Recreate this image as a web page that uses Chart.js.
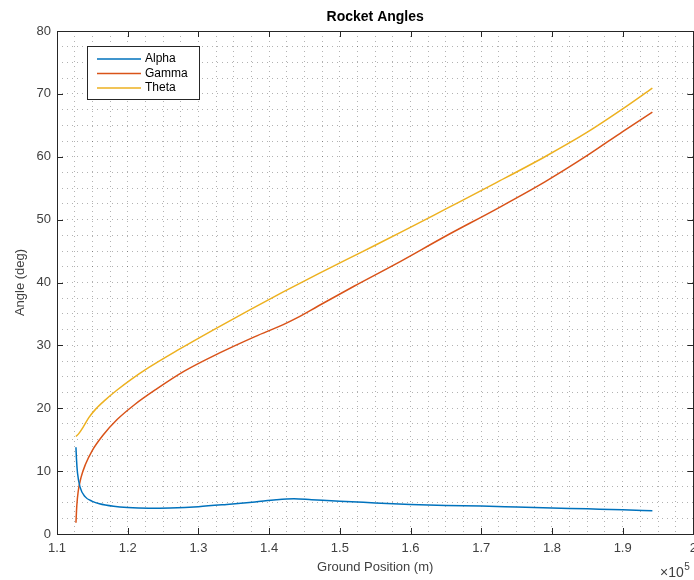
<!DOCTYPE html>
<html>
<head>
<meta charset="utf-8">
<script src="https://cdn.jsdelivr.net/npm/chart.js@4.4.0/dist/chart.umd.min.js"></script>
<style>
  body { margin: 0; overflow: hidden; background: #fff; }
</style>
</head>
<body>
<canvas id="myChart" width="704" height="580"></canvas>
<script>
// ground position (m) and angles (deg)
const alphaX = [112680, 112750, 112900, 113250, 114000, 115000, 116000, 118000, 120000, 123000, 126000, 130000, 134000, 138000, 141000, 143500, 146000, 150000, 155000, 160000, 165000, 170000, 175000, 180000, 185000, 190000, 194200];
const alphaY = [13.8, 12.0, 9.7, 7.5, 5.9, 5.2, 4.8, 4.4, 4.2, 4.1, 4.15, 4.35, 4.7, 5.1, 5.45, 5.6, 5.45, 5.2, 4.95, 4.7, 4.55, 4.45, 4.3, 4.15, 4.0, 3.85, 3.7];

const gammaX = [112680, 112800, 113000, 113400, 114000, 115000, 116500, 118500, 121000, 124000, 128000, 133000, 138000, 142000, 144000, 147000, 152000, 158000, 165000, 172000, 179000, 185000, 190000, 194200];
const gammaY = [1.8, 4.5, 6.8, 9.0, 11.0, 13.3, 15.7, 18.2, 20.6, 23.0, 25.9, 28.8, 31.4, 33.3, 34.4, 36.3, 39.4, 43.0, 47.4, 51.6, 56.0, 60.2, 64.0, 67.1];

const thetaX = [112680, 113100, 113700, 114500, 115500, 116800, 118500, 120500, 123000, 127000, 132000, 137000, 142000, 147000, 153000, 159000, 165000, 172000, 179000, 185000, 190000, 194200];
const thetaY = [15.5, 16.0, 17.0, 18.5, 19.9, 21.3, 22.9, 24.6, 26.5, 29.2, 32.4, 35.5, 38.5, 41.4, 44.8, 48.2, 51.7, 55.8, 60.0, 63.9, 67.6, 70.9];

const seriesNames = ["Alpha", "Gamma", "Theta"];
const seriesColors = ["#0072BD", "#D95319", "#EDB120"];

const xMajor = [110000, 120000, 130000, 140000, 150000, 160000, 170000, 180000, 190000, 200000];
const yMajor = [0, 10, 20, 30, 40, 50, 60, 70, 80];

const chartTitle = "Rocket Angles";
const xTitle = "Ground Position (m)";
const yTitle = "Angle (deg)";

const axisColor = "#262626";
const labelColor = "#404040";
const fontFam = "'Liberation Sans', Arial, Helvetica, sans-serif";

function points(xs, ys) {
  return xs.map((x, i) => ({x: x, y: ys[i]}));
}

// box, inward ticks, title, legend and exponent label
const matlabLook = {
  id: "matlabLook",
  afterDraw(chart) {
    const ctx = chart.ctx;
    const a = chart.chartArea;
    const xs = chart.scales.x, ys = chart.scales.y;
    ctx.save();
    ctx.strokeStyle = axisColor;
    ctx.lineWidth = 1;
    ctx.setLineDash([]);
    ctx.beginPath();
    xMajor.forEach(v => {
      const px = Math.round(xs.getPixelForValue(v)) + 0.5;
      ctx.moveTo(px, a.bottom); ctx.lineTo(px, a.bottom - 6);
      ctx.moveTo(px, a.top); ctx.lineTo(px, a.top + 6);
    });
    yMajor.forEach(v => {
      const py = Math.round(ys.getPixelForValue(v)) + 0.5;
      ctx.moveTo(a.left, py); ctx.lineTo(a.left + 6, py);
      ctx.moveTo(a.right, py); ctx.lineTo(a.right - 6, py);
    });
    ctx.stroke();
    ctx.strokeRect(Math.round(a.left) + 0.5, Math.round(a.top) + 0.5, Math.round(a.right - a.left), Math.round(a.bottom - a.top));

    // title
    ctx.fillStyle = "#000";
    ctx.font = "bold 14px " + fontFam;
    ctx.textAlign = "center";
    ctx.textBaseline = "middle";
    ctx.fillText(chartTitle, (a.left + a.right) / 2, 17);

    // exponent
    ctx.fillStyle = labelColor;
    ctx.font = "14px " + fontFam;
    ctx.textAlign = "left";
    ctx.textBaseline = "alphabetic";
    ctx.fillText("\u00d710", 660, 577);
    const w = ctx.measureText("\u00d710").width;
    ctx.font = "10px " + fontFam;
    ctx.fillText("5", 660 + w + 0.5, 570);

    // legend
    const lx = 87, ly = 46, lw = 112, lh = 53;
    ctx.fillStyle = "#fff";
    ctx.fillRect(lx, ly, lw, lh);
    ctx.strokeStyle = axisColor;
    ctx.strokeRect(lx + 0.5, ly + 0.5, lw, lh);
    ctx.font = "12px " + fontFam;
    ctx.textBaseline = "middle";
    chart.data.datasets.forEach((ds, i) => {
      const yy = 59 + i * 14.5;
      ctx.strokeStyle = ds.borderColor;
      ctx.lineWidth = 1.5;
      ctx.beginPath();
      ctx.moveTo(97, yy); ctx.lineTo(141, yy);
      ctx.stroke();
      ctx.fillStyle = "#000";
      ctx.fillText(ds.label, 145, yy);
    });
    ctx.restore();
  }
};

const ctx = document.getElementById("myChart");
const myChart = new Chart(ctx, {
  type: "scatter",
  data: {
    datasets: [
      {label: seriesNames[0], data: points(alphaX, alphaY)},
      {label: seriesNames[1], data: points(gammaX, gammaY)},
      {label: seriesNames[2], data: points(thetaX, thetaY)}
    ].map((d, i) => Object.assign(d, {
      showLine: true,
      borderColor: seriesColors[i],
      backgroundColor: seriesColors[i],
      borderWidth: 1.5,
      pointRadius: 0,
      cubicInterpolationMode: "monotone"
    }))
  },
  options: {
    responsive: false,
    animation: false,
    devicePixelRatio: 1,
    layout: {padding: {top: 31, right: 6, bottom: 0, left: 0}},
    plugins: {
      legend: {display: false},
      tooltip: {enabled: false}
    },
    scales: {
      x: {
        type: "linear",
        min: 110000,
        max: 200000,
        afterFit: s => { s.height = 46; },
        grid: {color: "rgba(0,0,0,0.3)", drawTicks: false},
        border: {display: false, dash: [1, 4]},
        ticks: {
          stepSize: 2500,
          autoSkip: false,
          maxRotation: 0,
          padding: 7,
          color: labelColor,
          font: {family: fontFam, size: 13},
          callback: v => (Math.round(v) % 10000 === 0 ? String(Math.round(v / 1e4) / 10) : "")
        },
        title: {
          display: true,
          text: xTitle,
          color: labelColor,
          font: {family: fontFam, size: 13},
          padding: {top: 0, bottom: 5}
        }
      },
      y: {
        type: "linear",
        min: 0,
        max: 80,
        afterFit: s => { s.width = 57; },
        grid: {color: "rgba(0,0,0,0.3)", drawTicks: false},
        border: {display: false, dash: [1, 4]},
        ticks: {
          stepSize: 2.5,
          autoSkip: false,
          padding: 6,
          color: labelColor,
          font: {family: fontFam, size: 13},
          callback: v => (Math.abs(v % 10) < 1e-9 ? String(v) : "")
        },
        title: {
          display: true,
          text: yTitle,
          color: labelColor,
          font: {family: fontFam, size: 13},
          padding: {top: 13, bottom: 0}
        }
      }
    }
  },
  plugins: [matlabLook]
});
</script>
</body>
</html>
